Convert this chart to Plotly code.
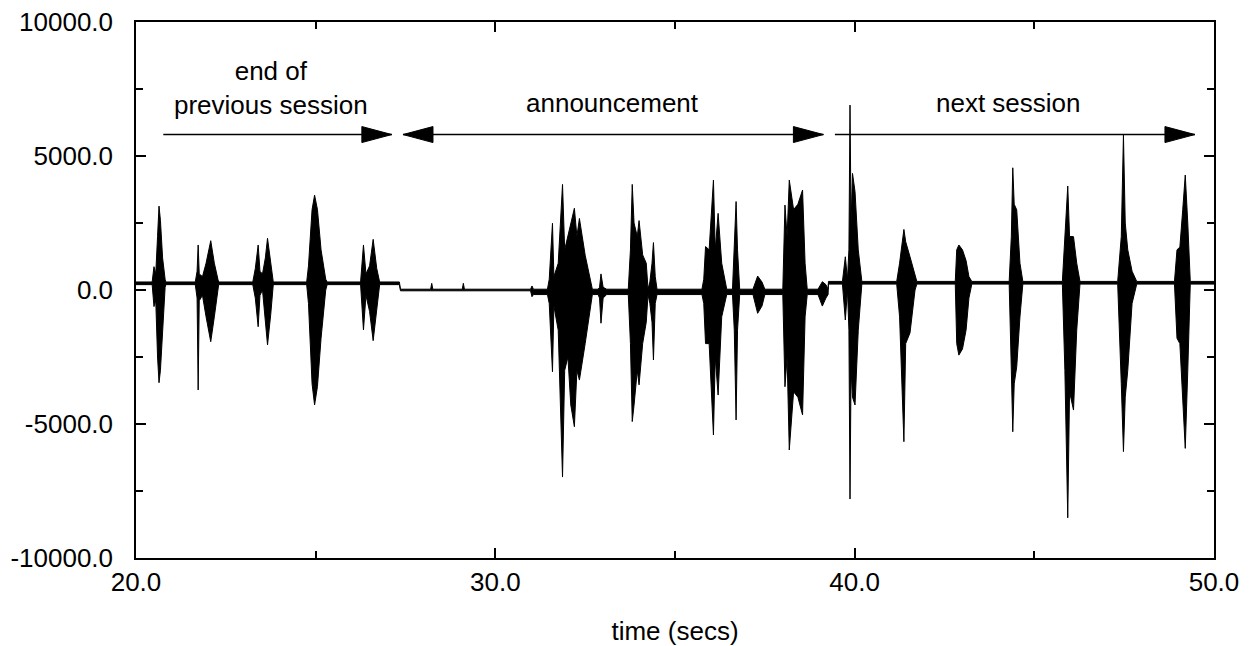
import plotly.graph_objects as go

# envelope of the recorded signal: time (s), upper and lower extent of the waveform
env_t = [
    20.00, 20.45, 20.50, 20.55, 20.60, 20.64, 20.68, 20.74, 20.81, 20.83,
    21.65, 21.70, 21.73, 21.76, 21.85, 21.95, 22.08, 22.18, 22.28, 22.30,
    23.25, 23.32, 23.40, 23.45, 23.52, 23.60, 23.66, 23.75, 23.82,
    24.75, 24.80, 24.90, 24.97, 25.05, 25.15, 25.28, 25.32,
    26.25, 26.33, 26.40, 26.50, 26.60, 26.70, 26.78,
    27.33, 27.36, 28.20, 28.23, 28.26, 29.08, 29.11, 29.14,
    30.98, 31.02, 31.06, 31.45, 31.50, 31.59, 31.63, 31.75, 31.87, 31.93, 32.02, 32.10, 32.20, 32.27,
    32.34, 32.50, 32.62, 32.70,
    32.86, 32.90, 32.94, 33.00, 33.10,
    33.70, 33.76, 33.81, 33.86, 33.95, 34.00, 34.10, 34.20, 34.25, 34.30, 34.36, 34.40, 34.45, 34.50,
    35.75, 35.80, 35.85, 35.95, 36.07, 36.12, 36.20, 36.30, 36.44,
    36.60, 36.65, 36.70, 36.74, 36.80,
    37.17, 37.30, 37.42, 37.50,
    38.00, 38.06, 38.12, 38.18, 38.30, 38.42, 38.55, 38.62, 38.68,
    38.98, 39.10, 39.20, 39.26, 39.27,
    39.66, 39.74, 39.80, 39.84, 39.87, 39.90, 39.94, 40.01, 40.10, 40.20,
    41.17, 41.25, 41.37, 41.42, 41.54, 41.68, 41.73,
    42.80, 42.84, 42.90, 43.00, 43.10, 43.18, 43.26,
    44.30, 44.36, 44.40, 44.44, 44.51, 44.60, 44.68,
    45.78, 45.85, 45.93, 45.98, 46.09, 46.18, 46.27,
    47.32, 47.42, 47.48, 47.53, 47.60, 47.72, 47.85,
    48.90, 48.97, 49.05, 49.13, 49.20, 49.27, 49.34, 50.00,
]
env_hi = [
    300, 300, 870, 600, 2000, 3130, 2600, 1200, 400, 300,
    300, 700, 1680, 600, 500, 1000, 1840, 1000, 400, 300,
    300, 800, 1680, 700, 600, 1200, 1930, 900, 300,
    300, 900, 3000, 3540, 3000, 1500, 400, 300,
    300, 1680, 600, 900, 1890, 800, 300,
    300, 30, 30, 250, 30, 30, 250, 30,
    30, 150, 30, 30, 400, 2490, 500, 1000, 3940, 1500, 2000, 2510, 3050, 2000,
    2670, 1300, 600, 30,
    30, 100, 600, 100, 30,
    30, 1500, 3940, 2500, 2000, 2590, 1310, 1000, 30, 300, 1000, 1770, 500, 30,
    30, 400, 1620, 1500, 4100, 1500, 2860, 1000, 30,
    30, 1500, 3300, 1500, 30,
    30, 520, 300, 30,
    30, 3170, 2000, 4100, 3000, 3200, 3730, 1000, 30,
    30, 310, 200, 30, 320,
    320, 1240, 400, 1500, 6900, 2500, 4350, 3670, 1500, 320,
    320, 1000, 2260, 1800, 1240, 500, 320,
    320, 1500, 1680, 1500, 1100, 500, 320,
    320, 2000, 4560, 3200, 2990, 1000, 320,
    320, 2000, 3880, 2000, 1990, 1000, 320,
    320, 2000, 5780, 2500, 1500, 700, 320,
    320, 1500, 1600, 3000, 4290, 2500, 320, 320,
]
env_lo = [
    200, 200, -620, -400, -2500, -3460, -3000, -1500, 100, 200,
    200, -300, -3730, -400, -200, -1000, -1930, -1000, 100, 200,
    200, -300, -1370, -200, 0, -1200, -2050, -900, 200,
    200, -500, -3500, -4290, -3600, -1800, 0, 200,
    200, -1490, -200, -800, -1890, -700, 200,
    200, -30, -30, -30, -30, -30, -30, -30,
    -30, -250, -170, -170, -500, -3050, -600, -1500, -6980, -3000, -2500, -4290, -5100, -3000,
    -3360, -2000, -800, -170,
    -170, -300, -1240, -300, -170,
    -170, -2000, -4910, -4300, -3000, -3540, -2000, -1200, -170, -500, -1200, -2610, -500, -170,
    -170, -500, -2000, -2000, -5410, -2500, -3920, -1000, -170,
    -170, -1500, -4850, -1500, -170,
    -170, -870, -600, -170,
    -170, -3610, -2500, -5970, -3800, -4000, -4660, -1000, -170,
    -170, -600, -300, -170, 220,
    220, -1120, 0, -1500, -7800, -3000, -4000, -4290, -1500, 220,
    220, -1000, -5660, -2000, -1600, 0, 220,
    220, -2000, -2430, -2200, -1500, -300, 220,
    220, -3000, -5290, -3500, -2860, -1000, 220,
    220, -3000, -8500, -3800, -4480, -1500, 220,
    220, -3500, -6030, -4000, -3000, -500, 220,
    220, -1800, -2000, -4000, -5910, -3000, 220, 220,
]

x_tick_vals = [20, 30, 40, 50]
x_tick_text = ["20.0", "30.0", "40.0", "50.0"]
y_tick_vals = [-10000, -5000, 0, 5000, 10000]
y_tick_text = ["-10000.0", "-5000.0", "0.0", "5000.0", "10000.0"]

# section labels and arrows (start, end, heads)
arrow_y = 5800
arrow_spans = [(20.76, 27.12, "end"), (27.43, 39.13, "both"), (39.45, 49.47, "end")]
labels = [("end of<br>previous session", 23.77, 7550),
          ("announcement", 33.25, 6980), ("next session", 44.27, 6980)]

font = "Liberation Sans, Arial, Helvetica, sans-serif"
fsize = 26

fig = go.Figure()
fig.add_trace(go.Scatter(x=env_t, y=env_lo, mode="lines",
                         line=dict(color="black", width=1), hoverinfo="skip"))
fig.add_trace(go.Scatter(x=env_t, y=env_hi, mode="lines", fill="tonexty",
                         fillcolor="black", line=dict(color="black", width=1),
                         hoverinfo="skip"))

head = "M0,0 L-30,8 L-30,-8 Z"
head_left = "M0,0 L30,8 L30,-8 Z"
for x0, x1, kind in arrow_spans:
    fig.add_shape(type="line", x0=x0, x1=x1, y0=arrow_y, y1=arrow_y,
                  line=dict(color="black", width=1.5))
    fig.add_shape(type="path", xsizemode="pixel", ysizemode="pixel",
                  xanchor=x1, yanchor=arrow_y, path=head,
                  fillcolor="black", line=dict(color="black", width=1))
    if kind == "both":
        fig.add_shape(type="path", xsizemode="pixel", ysizemode="pixel",
                      xanchor=x0, yanchor=arrow_y, path=head_left,
                      fillcolor="black", line=dict(color="black", width=1))

for text, x, y in labels:
    fig.add_annotation(x=x, y=y, text=text, showarrow=False,
                       font=dict(size=fsize, color="black", family=font),
                       xanchor="center", yanchor="middle")

axis_common = dict(
    showline=True, linecolor="black", linewidth=1.5, mirror="ticks",
    ticks="inside", ticklen=10, tickwidth=1.5, tickcolor="black",
    showgrid=False, zeroline=False, automargin=False, ticklabeloverflow="allow",
    tickfont=dict(size=fsize, color="black", family=font),
)

fig.update_xaxes(range=[20, 50], tickmode="array", tickvals=x_tick_vals,
                 ticktext=x_tick_text, ticklabelstandoff=0,
                 minor=dict(ticks="inside", ticklen=7, tickwidth=1.5,
                            tickcolor="black", tick0=20, dtick=5),
                 title=dict(text="time (secs)", standoff=26,
                            font=dict(size=fsize, color="black", family=font)),
                 **axis_common)
fig.update_yaxes(range=[-10000, 10000], tickmode="array", tickvals=y_tick_vals,
                 ticktext=y_tick_text, ticklabelstandoff=16,
                 minor=dict(ticks="inside", ticklen=7, tickwidth=1.5,
                            tickcolor="black", tick0=0, dtick=2500),
                 **axis_common)

# the page body adds an 8px offset, so the margins are shifted to compensate
fig.update_layout(
    width=1250, height=646,
    margin=dict(l=128, r=44, t=14, b=96),
    plot_bgcolor="white", paper_bgcolor="white",
    showlegend=False,
    font=dict(family=font, color="black"),
)

fig.write_html("out.html")
